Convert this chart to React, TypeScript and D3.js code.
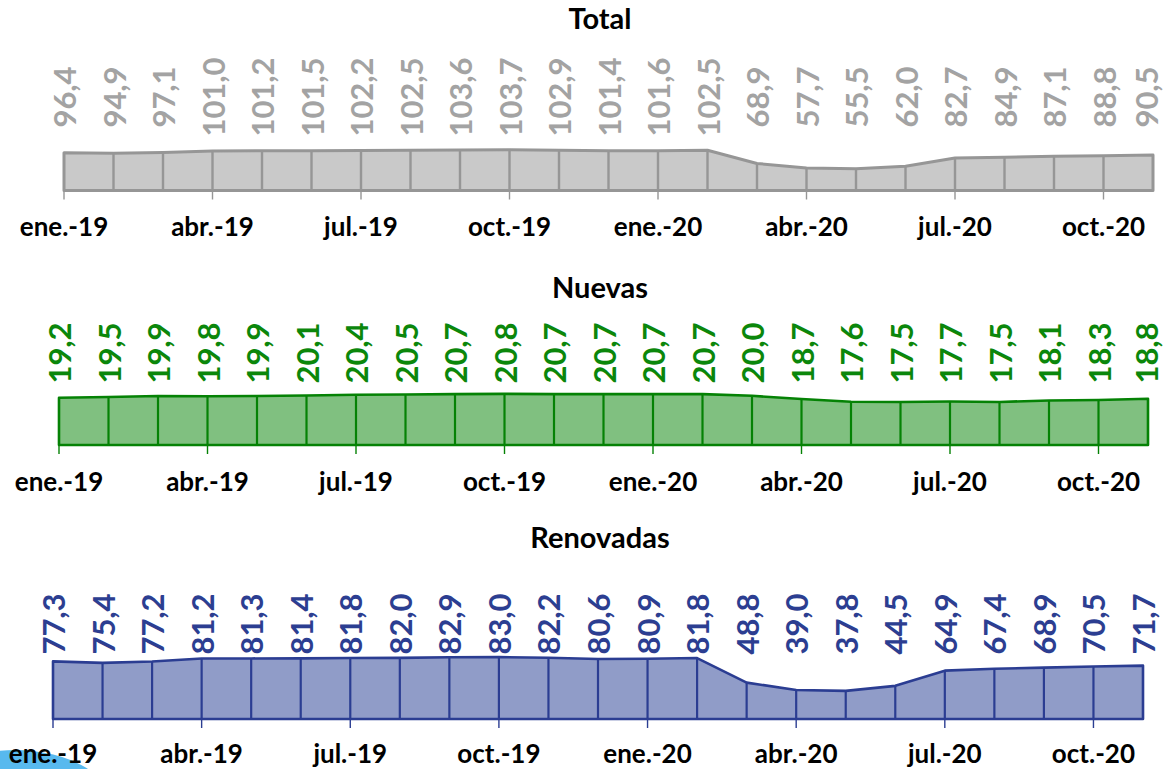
import React from "react";
import * as d3 from "d3";

const months = [
  "ene.-19", "feb.-19", "mar.-19", "abr.-19", "may.-19", "jun.-19", "jul.-19", "ago.-19",
  "sep.-19", "oct.-19", "nov.-19", "dic.-19", "ene.-20", "feb.-20", "mar.-20", "abr.-20",
  "may.-20", "jun.-20", "jul.-20", "ago.-20", "sep.-20", "oct.-20", "nov.-20",
];

const totalValues = [
  96.4, 94.9, 97.1, 101.0, 101.2, 101.5, 102.2, 102.5, 103.6, 103.7, 102.9, 101.4,
  101.6, 102.5, 68.9, 57.7, 55.5, 62.0, 82.7, 84.9, 87.1, 88.8, 90.5,
];

const nuevasValues = [
  19.2, 19.5, 19.9, 19.8, 19.9, 20.1, 20.4, 20.5, 20.7, 20.8, 20.7, 20.7,
  20.7, 20.7, 20.0, 18.7, 17.6, 17.5, 17.7, 17.5, 18.1, 18.3, 18.8,
];

const renovadasValues = [
  77.3, 75.4, 77.2, 81.2, 81.3, 81.4, 81.8, 82.0, 82.9, 83.0, 82.2, 80.6,
  80.9, 81.8, 48.8, 39.0, 37.8, 44.5, 64.9, 67.4, 68.9, 70.5, 71.7,
];

const titles = ["Total", "Nuevas", "Renovadas"];

type Panel = {
  title: string;
  values: number[];
  x0: number;
  x1: number;
  base: number;
  yMax: number;
  yTopPx: number;
  fill: string;
  stroke: string;
  labelColor: string;
  labelY: number;
  axisY: number;
  titleY: number;
  lineW: number;
  dropW: number;
};

const panels: Panel[] = [
  {
    title: titles[0], values: totalValues, x0: 64, x1: 1153, base: 190.5,
    yMax: 100, yTopPx: 39.2, fill: "#c9c9c9", stroke: "#969696", labelColor: "#a3a3a3",
    labelY: 97, axisY: 236, titleY: 29, lineW: 3, dropW: 2.4,
  },
  {
    title: titles[1], values: nuevasValues, x0: 59, x1: 1148, base: 445,
    yMax: 20, yTopPx: 49.2, fill: "#80c080", stroke: "#058205", labelColor: "#0b870b",
    labelY: 353, axisY: 491, titleY: 298, lineW: 2.6, dropW: 2.2,
  },
  {
    title: titles[2], values: renovadasValues, x0: 53, x1: 1143, base: 719,
    yMax: 100, yTopPx: 74.5, fill: "#909cc8", stroke: "#2b3d92", labelColor: "#2c3e91",
    labelY: 624, axisY: 763, titleY: 548, lineW: 2.6, dropW: 2.2,
  },
];

const fmt = (v: number) => d3.format(".1f")(v).replace(".", ",");
const FONT = "Lato, 'Open Sans', sans-serif";

function AreaPanel({ p }: { p: Panel }) {
  const x = d3.scaleLinear().domain([0, months.length - 1]).range([p.x0, p.x1]);
  const y = d3.scaleLinear().domain([0, p.yMax]).range([p.base, p.base - p.yTopPx]);
  const area = d3
    .area<number>()
    .x((_, i) => x(i))
    .y0(p.base)
    .y1((d) => y(d));
  const path = area(p.values) || "";
  return (
    <g>
      <text
        x={600}
        y={p.titleY}
        textAnchor="middle"
        fontFamily={FONT}
        fontWeight="bold"
        fontSize={29}
        fill="#000"
      >
        {p.title}
      </text>
      <path d={path} fill={p.fill} stroke="none" />
      {p.values.map((v, i) =>
        i > 0 && i < p.values.length - 1 ? (
          <line
            key={"d" + i}
            x1={x(i)}
            x2={x(i)}
            y1={y(v)}
            y2={p.base}
            stroke={p.stroke}
            strokeWidth={p.dropW}
          />
        ) : null
      )}
      <path d={path} fill="none" stroke={p.stroke} strokeWidth={p.lineW} strokeLinejoin="round" />
      {months.map((m, i) =>
        i % 3 === 0 ? (
          <g key={"t" + i}>
            <line
              x1={x(i)}
              x2={x(i)}
              y1={p.base}
              y2={p.base + 9}
              stroke={p.stroke}
              strokeWidth={1.4}
            />
            <text
              x={x(i)}
              y={p.axisY}
              textAnchor="middle"
              fontFamily={FONT}
              fontWeight="bold"
              fontSize={26}
              fill="#000"
            >
              {m}
            </text>
          </g>
        ) : null
      )}
      {p.values.map((v, i) => (
        <text
          key={"l" + i}
          transform={`translate(${Math.min(x(i), 1146)},${p.labelY}) rotate(-90)`}
          textAnchor="middle"
          dominantBaseline="central"
          fontFamily={FONT}
          fontWeight="bold"
          fontSize={31}
          fill={p.labelColor}
        >
          {fmt(v)}
        </text>
      ))}
    </g>
  );
}

export default function App() {
  return (
    <svg
      width={1165}
      height={769}
      style={{ position: "absolute", left: 0, top: 0, background: "#fff" }}
    >
      <rect x={0} y={0} width={1165} height={769} fill="#fff" />
      <ellipse cx={15} cy={810} rx={100} ry={60} fill="#58b9ee" />
      {panels.map((p) => (
        <AreaPanel key={p.title} p={p} />
      ))}
    </svg>
  );
}
